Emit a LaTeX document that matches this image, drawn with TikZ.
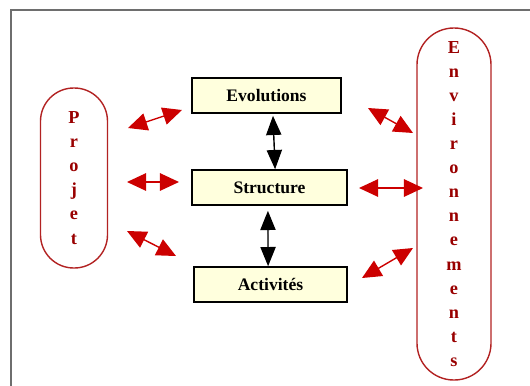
\documentclass[tikz,border=0pt]{standalone}
\usepackage{fontspec}
\setmainfont{Liberation Serif}
\usetikzlibrary{positioning,arrows.meta}
\definecolor{boxfill}{RGB}{255,255,221}
\definecolor{capsred}{RGB}{178,34,34}
\definecolor{letterred}{RGB}{153,0,0}
\definecolor{arrowred}{RGB}{204,0,0}
\definecolor{framegray}{RGB}{110,110,110}
\tikzset{
    box/.style={draw=black, fill=boxfill, line width=0.4mm, minimum height=8.75mm, inner sep=0pt, font=\fontsize{12.5}{15}\bfseries},
    capsule/.style={draw=capsred, line width=0.35mm, inner sep=0pt, align=center, text=letterred, font=\fontsize{13}{17.1}\bfseries},
    redarrow/.style={{Triangle[length=4.8mm,width=4.4mm]}-{Triangle[length=4.8mm,width=4.4mm]}, line width=0.35mm, draw=arrowred, fill=arrowred},
    blackarrow/.style={{Triangle[length=4.8mm,width=3.8mm]}-{Triangle[length=4.8mm,width=3.8mm]}, line width=0.35mm, draw=black, fill=black},
    frame/.style={draw=framegray, line width=0.5mm}
}
\begin{document}
\begin{tikzpicture}[x=0.25mm, y=-0.25mm]
\useasboundingbox (0,0) rectangle (530,385);
\draw[frame] (11,10) rectangle (545,400);
% capsules
\node[capsule, minimum width=16.75mm, minimum height=45mm, rounded corners=8.3mm] (projet) at (74,178)
    {P\\r\\o\\j\\e\\t};
\node[capsule, minimum width=18.5mm, minimum height=88mm, rounded corners=9.2mm] (envir) at (454,204)
    {E\\n\\v\\i\\r\\o\\n\\n\\e\\m\\e\\n\\t\\s};
% central boxes
\node[box, minimum width=37.25mm] (evol) at (266.5,95.5) {Evolutions\hspace{4mm}};
\node[box, minimum width=38.75mm] (struct) at (269.5,187.5) {Structure\hspace{3mm}};
\node[box, minimum width=38.25mm] (activ) at (270.5,284.5) {Activités\hspace{3mm}};
% end points of the red links
\coordinate (pEvoA) at (128,128);
\coordinate (pEvoB) at (182,110);
\coordinate (pStrA) at (127,182);
\coordinate (pStrB) at (179,182);
\coordinate (pActA) at (127,231);
\coordinate (pActB) at (176,256);
\coordinate (eEvoA) at (368,108);
\coordinate (eEvoB) at (413,133);
\coordinate (eStrA) at (359,188);
\coordinate (eStrB) at (423,188);
\coordinate (eActA) at (362,278);
\coordinate (eActB) at (413,248);
\draw[redarrow] (pEvoA) -- (pEvoB);
\draw[redarrow] (pStrA) -- (pStrB);
\draw[redarrow] (pActA) -- (pActB);
\draw[redarrow] (eEvoA) -- (eEvoB);
\draw[redarrow] (eStrA) -- (eStrB);
\draw[redarrow] (eActA) -- (eActB);
% links between boxes
\draw[blackarrow, shorten <=0.5mm] ([xshift=1.6mm]evol.south) -- ([xshift=1.4mm]struct.north);
\draw[blackarrow, shorten <=1.25mm] ([xshift=-0.4mm]struct.south) -- ([xshift=-0.6mm]activ.north);
\end{tikzpicture}
\end{document}
